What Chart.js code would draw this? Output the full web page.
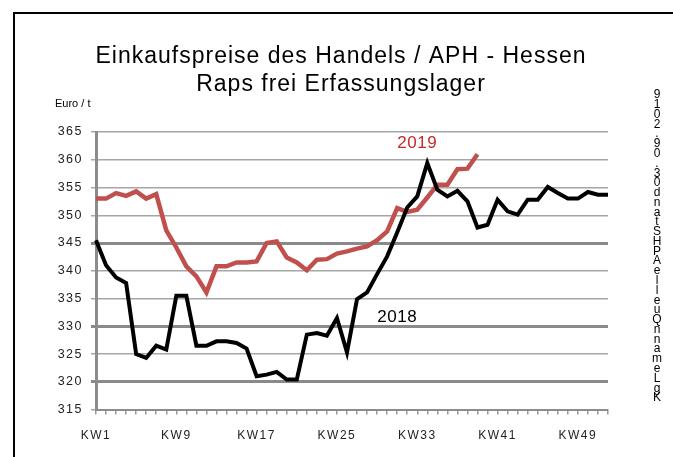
<!DOCTYPE html>
<html lang="de">
<head>
<meta charset="UTF-8">
<title>Einkaufspreise des Handels - Raps</title>
<style>
  body { margin: 0; background: #fff; }
  .rahmen { position: absolute; left: 13px; top: 12px; width: 700px; height: 500px;
            border-left: 2px solid #000; border-top: 2px solid #000; }
  .chart-box { position: absolute; left: 0; top: 0; width: 673px; height: 457px; }
</style>
</head>
<body>
<div class="rahmen"></div>
<div class="chart-box"><canvas id="raps"></canvas></div>
<script src="https://cdn.jsdelivr.net/npm/chart.js"></script>
<script>
// Kalenderwochen
const wochen = ['KW1','KW2','KW3','KW4','KW5','KW6','KW7','KW8','KW9','KW10','KW11','KW12','KW13',
  'KW14','KW15','KW16','KW17','KW18','KW19','KW20','KW21','KW22','KW23','KW24','KW25','KW26',
  'KW27','KW28','KW29','KW30','KW31','KW32','KW33','KW34','KW35','KW36','KW37','KW38','KW39',
  'KW40','KW41','KW42','KW43','KW44','KW45','KW46','KW47','KW48','KW49','KW50','KW51','KW52'];

// Euro / t
const preise2018 = [345.5, 341, 338.8, 337.8, 325, 324.3, 326.5, 325.8, 335.5, 335.5, 326.5, 326.5, 327.3,
  327.3, 327, 326, 321, 321.3, 321.8, 320.4, 320.4, 328.5, 328.8, 328.3, 331.5, 325.3,
  334.9, 336.1, 339.4, 342.6, 346.9, 351.4, 353.4, 359.4, 354.6, 353.4, 354.4, 352.5, 347.8,
  348.3, 352.8, 350.7, 350.1, 352.8, 352.8, 355.1, 354, 353, 353, 354.2, 353.7, 353.7];
const preise2019 = [353, 353, 354, 353.5, 354.3, 353, 353.8, 347.3, 344.2, 340.8, 339, 336.1, 340.8,
  340.8, 341.5, 341.5, 341.7, 345, 345.3, 342.4, 341.5, 340.1, 342, 342.1, 343.1, 343.5,
  344, 344.4, 345.5, 347.1, 351.3, 350.6, 351, 353.2, 355.5, 355.5, 358.3, 358.4, 361];

const yTicks = [315, 320, 325, 330, 335, 340, 345, 350, 355, 360, 365];
const dickeLinien = [345, 330, 320];

const titelZeilen = ['Einkaufspreise des Handels / APH - Hessen', 'Raps frei Erfassungslager'];
const quelleText = 'KgLemannQuelleAPHStand03.09.2019';

const zusatzText = {
  id: 'zusatzText',
  beforeDraw(chart) {
    chart.ctx.letterSpacing = '1.5px';
  },
  afterDraw(chart) {
    const { ctx, chartArea, scales } = chart;
    ctx.save();
    ctx.fillStyle = '#000';
    ctx.textAlign = 'center';
    ctx.textBaseline = 'middle';
    ctx.letterSpacing = '1px';
    ctx.font = '23px "Liberation Sans"';
    ctx.fillText(titelZeilen[0], 341, 57);
    ctx.fillText(titelZeilen[1], 341, 85);

    ctx.font = '11px "Liberation Sans"';
    ctx.textAlign = 'left';
    ctx.letterSpacing = '0px';
    ctx.fillText('Euro / t', 55, chartArea.top - 28);

    ctx.letterSpacing = '0.5px';
    ctx.font = '17px "Liberation Sans"';
    ctx.textAlign = 'center';
    ctx.fillStyle = '#c62a2a';
    ctx.fillText('2019', scales.x.getPixelForValue(32), scales.y.getPixelForValue(363));
    ctx.fillStyle = '#000';
    ctx.fillText('2018', scales.x.getPixelForValue(30), scales.y.getPixelForValue(331.7));

    // senkrechte Quellenangabe
    ctx.letterSpacing = '0px';
    ctx.font = '12px "Liberation Sans"';
    const zeichen = quelleText.split('');
    const schritt = 303 / (zeichen.length - 1);
    zeichen.forEach((z, i) => {
      ctx.fillText(z, 657, 398 - i * schritt);
    });
    ctx.restore();
  }
};

new Chart(document.getElementById('raps'), {
  type: 'line',
  data: {
    labels: wochen,
    datasets: [
      {
        label: '2018',
        data: preise2018,
        borderColor: '#000000',
        borderWidth: 4,
        pointRadius: 0,
        tension: 0,
        fill: false
      },
      {
        label: '2019',
        data: preise2019,
        borderColor: '#c0504d',
        borderWidth: 4.5,
        pointRadius: 0,
        tension: 0,
        fill: false
      }
    ]
  },
  options: {
    responsive: true,
    maintainAspectRatio: false,
    animation: false,
    layout: { padding: { left: 0, right: 65, top: 132, bottom: 0 } },
    plugins: {
      legend: { display: false },
      tooltip: { enabled: false }
    },
    scales: {
      x: {
        offset: false,
        grid: {
          offset: false,
          drawOnChartArea: false,
          drawTicks: true,
          tickLength: 5,
          color: '#9a9a9a',
          lineWidth: 1.5
        },
        border: { display: true, color: '#8c8c8c', width: 2 },
        ticks: {
          autoSkip: false,
          maxRotation: 0,
          padding: 14,
          color: '#222',
          font: { family: 'Liberation Sans', size: 12 },
          callback: (v, i) => (i % 8 === 0 ? wochen[i] : '')
        }
      },
      y: {
        min: yTicks[0],
        max: yTicks[yTicks.length - 1],
        afterFit: (scale) => { scale.width = 96; },
        afterBuildTicks: (scale) => { scale.ticks = yTicks.map(v => ({ value: v })); },
        grid: {
          tickLength: 5,
          color: (c) => (dickeLinien.includes(c.tick && c.tick.value) ? '#8a8a8a' : '#a6a6a6'),
          lineWidth: (c) => (dickeLinien.includes(c.tick && c.tick.value) ? 3 : 1.5)
        },
        border: { display: true, color: '#8c8c8c', width: 3 },
        ticks: {
          padding: 8,
          color: '#222',
          font: { family: 'Liberation Sans', size: 12.5 }
        }
      }
    }
  },
  plugins: [zusatzText]
});
</script>
</body>
</html>
